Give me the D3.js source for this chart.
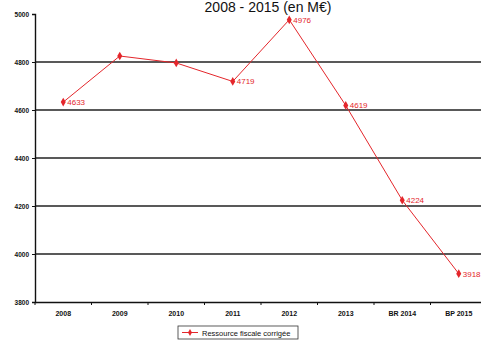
<!DOCTYPE html>
<html>
<head>
<meta charset="utf-8">
<script src="https://cdn.jsdelivr.net/npm/d3@7"></script>
<style>
  html, body { margin: 0; padding: 0; background: #fff; }
  svg { display: block; }
</style>
</head>
<body>
<svg id="chart" width="481" height="340"></svg>
<script>
// Ressource fiscale corrigée, 2008 - 2015 (en M€)
const categories = ["2008", "2009", "2010", "2011", "2012", "2013", "BR 2014", "BP 2015"];
const values = [4633, 4825, 4796, 4719, 4976, 4619, 4224, 3918];
const labelled = [true, false, false, true, true, true, true, true];
const yTicks = [3800, 4000, 4200, 4400, 4600, 4800, 5000];
const title = "2008 - 2015 (en M€)";
const legendLabel = "Ressource fiscale corrigée";

const svg = d3.select("#chart");
const red = "#e4262b";

const x = d3.scaleBand().domain(categories).range([35, 487]).padding(0);
const y = d3.scaleLinear().domain([3800, 5000]).range([302, 14]);

// Title
svg.append("text")
  .attr("x", 268).attr("y", 12)
  .attr("text-anchor", "middle")
  .attr("font-family", "Liberation Sans, Arial, sans-serif")
  .attr("font-size", 14)
  .attr("fill", "#111")
  .text(title);

// Horizontal grid lines
svg.append("g")
  .selectAll("line")
  .data(yTicks.slice(1, -1))
  .join("line")
  .attr("x1", 35).attr("x2", 481)
  .attr("y1", d => y(d)).attr("y2", d => y(d))
  .attr("stroke", "#222").attr("stroke-width", 1.4);

// Y axis
const yAxis = svg.append("g")
  .attr("transform", "translate(35,0)")
  .call(d3.axisLeft(y).tickValues(yTicks).tickSize(3).tickFormat(d3.format("d")));
yAxis.select(".domain").attr("stroke", "#111").attr("stroke-width", 1.4);
yAxis.selectAll("line").attr("stroke", "#111");
yAxis.selectAll("text")
  .attr("font-family", "Liberation Sans Narrow, Liberation Sans, Arial, sans-serif")
  .attr("font-size", 6.5).attr("font-weight", "bold").attr("fill", "#111");

// X axis (ticks between categories)
const xAxis = svg.append("g")
  .attr("transform", "translate(0,302)")
  .call(d3.axisBottom(x).tickSize(0).tickPadding(9));
xAxis.select(".domain").attr("stroke", "#111").attr("stroke-width", 1.4);
xAxis.selectAll("text")
  .attr("font-family", "Liberation Sans Narrow, Liberation Sans, Arial, sans-serif")
  .attr("font-size", 7).attr("font-weight", "bold").attr("fill", "#111");
xAxis.append("g")
  .selectAll("line")
  .data(categories)
  .join("line")
  .attr("x1", d => x(d)).attr("x2", d => x(d))
  .attr("y1", 0).attr("y2", 3)
  .attr("stroke", "#111");

// Series line
const cx = d => x(d) + x.bandwidth() / 2;
const pts = categories.map((c, i) => ({ c, v: values[i], lab: labelled[i] }));
svg.append("path")
  .datum(pts)
  .attr("fill", "none")
  .attr("stroke", red)
  .attr("stroke-width", 1)
  .attr("d", d3.line().x(d => cx(d.c)).y(d => y(d.v)));

svg.append("g")
  .selectAll("path")
  .data(pts)
  .join("path")
  .attr("transform", d => `translate(${cx(d.c)},${y(d.v)})`)
  .attr("d", d3.symbol(d3.symbolDiamond, 22))
  .attr("fill", red);

svg.append("g")
  .selectAll("text")
  .data(pts.filter(d => d.lab))
  .join("text")
  .attr("x", d => cx(d.c) + 4)
  .attr("y", d => y(d.v) + 3)
  .attr("font-family", "Liberation Sans Narrow, Liberation Sans, Arial, sans-serif")
  .attr("font-size", 8)
  .attr("fill", red)
  .text(d => d.v);

// Legend
const lg = svg.append("g").attr("transform", "translate(178,326)");
lg.append("rect")
  .attr("width", 120).attr("height", 13)
  .attr("fill", "#fff").attr("stroke", "#333").attr("stroke-width", 0.8);
lg.append("line")
  .attr("x1", 4).attr("x2", 20).attr("y1", 6.5).attr("y2", 6.5)
  .attr("stroke", red).attr("stroke-width", 1);
lg.append("path")
  .attr("transform", "translate(12,6.5)")
  .attr("d", d3.symbol(d3.symbolDiamond, 14))
  .attr("fill", red);
lg.append("text")
  .attr("x", 24).attr("y", 9.5)
  .attr("font-family", "Liberation Sans Narrow, Liberation Sans, Arial, sans-serif")
  .attr("font-size", 7.5).attr("fill", "#111")
  .text(legendLabel);
</script>
</body>
</html>
